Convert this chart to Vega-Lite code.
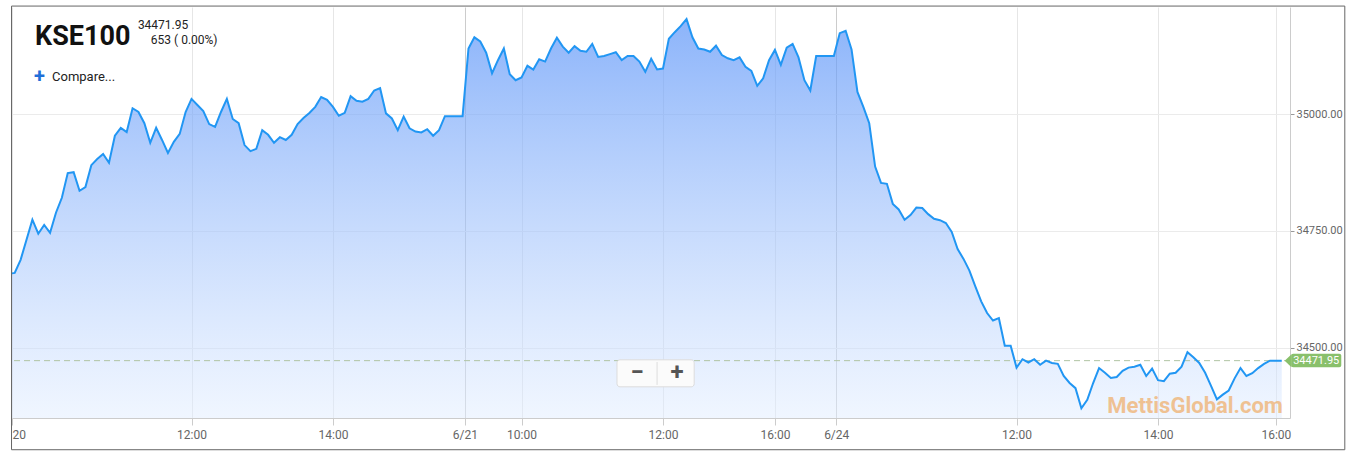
{
  "$schema": "https://vega.github.io/schema/vega-lite/v6.json",
  "width": 1278,
  "height": 411,
  "autosize": "none",
  "padding": {"left": 12, "top": 7, "right": 66, "bottom": 40},
  "background": "white",
  "config": {"view": {"stroke": null}, "font": "Roboto"},
  "datasets": {
    "kse": [
      {"i":-0.46,"v":34659},{"i":0,"v":34660},{"i":1,"v":34688},{"i":3,"v":34774},{"i":4,"v":34744},{"i":5,"v":34763},{"i":6,"v":34746},{"i":7,"v":34789},{"i":8,"v":34821},{"i":9,"v":34874},{"i":10,"v":34876},
      {"i":11,"v":34836},{"i":12,"v":34844},{"i":13,"v":34891},{"i":14,"v":34904},{"i":15,"v":34915},{"i":16,"v":34896},{"i":17,"v":34954},{"i":18,"v":34971},{"i":19,"v":34962},{"i":20,"v":35013},
      {"i":21,"v":35005},{"i":22,"v":34981},{"i":23,"v":34939},{"i":24,"v":34971},{"i":25,"v":34945},{"i":26,"v":34917},{"i":27,"v":34941},{"i":28,"v":34958},{"i":29,"v":35005},{"i":30,"v":35033},
      {"i":31,"v":35020},{"i":32,"v":35007},{"i":33,"v":34979},{"i":34,"v":34973},{"i":35,"v":35005},{"i":36,"v":35033},{"i":37,"v":34990},{"i":38,"v":34981},{"i":39,"v":34934},{"i":40,"v":34921},
      {"i":41,"v":34926},{"i":42,"v":34966},{"i":43,"v":34956},{"i":44,"v":34939},{"i":45,"v":34951},{"i":46,"v":34945},{"i":47,"v":34956},{"i":48,"v":34979},{"i":49,"v":34992},{"i":50,"v":35003},
      {"i":51,"v":35016},{"i":52,"v":35037},{"i":53,"v":35031},{"i":54,"v":35016},{"i":55,"v":34997},{"i":56,"v":35003},{"i":57,"v":35039},{"i":58,"v":35029},{"i":59,"v":35027},{"i":60,"v":35033},
      {"i":61,"v":35051},{"i":62,"v":35056},{"i":63,"v":35002},{"i":64,"v":34991},{"i":65,"v":34966},{"i":66,"v":34995},{"i":67,"v":34970},{"i":68,"v":34963},{"i":69,"v":34961},{"i":70,"v":34968},
      {"i":71,"v":34954},{"i":72,"v":34966},{"i":73,"v":34996},{"i":76,"v":34996},
      {"i":77,"v":35141},{"i":78,"v":35165},{"i":79,"v":35156},{"i":80,"v":35132},{"i":81,"v":35088},{"i":82,"v":35116},{"i":83,"v":35141},{"i":84,"v":35086},{"i":85,"v":35073},{"i":86,"v":35079},
      {"i":87,"v":35104},{"i":88,"v":35096},{"i":89,"v":35118},{"i":90,"v":35113},{"i":91,"v":35141},{"i":92,"v":35164},{"i":93,"v":35145},{"i":94,"v":35132},{"i":95,"v":35146},{"i":96,"v":35136},
      {"i":97,"v":35134},{"i":98,"v":35151},{"i":99,"v":35123},{"i":100,"v":35125},{"i":101,"v":35129},{"i":102,"v":35133},{"i":103,"v":35116},{"i":104,"v":35125},{"i":105,"v":35125},{"i":106,"v":35113},
      {"i":107,"v":35091},{"i":108,"v":35119},{"i":109,"v":35096},{"i":110,"v":35098},{"i":111,"v":35162},{"i":112,"v":35176},{"i":113,"v":35189},{"i":114,"v":35204},{"i":115,"v":35165},{"i":116,"v":35141},
      {"i":117,"v":35139},{"i":118,"v":35134},{"i":119,"v":35147},{"i":120,"v":35127},{"i":121,"v":35120},{"i":122,"v":35116},{"i":123,"v":35122},{"i":124,"v":35102},{"i":125,"v":35093},{"i":126,"v":35061},
      {"i":127,"v":35077},{"i":128,"v":35116},{"i":129,"v":35138},{"i":130,"v":35106},{"i":131,"v":35143},{"i":132,"v":35151},{"i":133,"v":35122},{"i":134,"v":35073},{"i":135,"v":35051},{"i":136,"v":35125},
      {"i":139,"v":35125},
      {"i":140,"v":35174},{"i":141,"v":35179},{"i":142,"v":35139},{"i":143,"v":35048},{"i":144,"v":35016},{"i":145,"v":34981},{"i":146,"v":34888},{"i":147,"v":34853},{"i":148,"v":34851},{"i":149,"v":34808},
      {"i":150,"v":34796},{"i":151,"v":34774},{"i":152,"v":34784},{"i":153,"v":34800},{"i":154,"v":34799},{"i":155,"v":34786},{"i":156,"v":34776},{"i":157,"v":34773},{"i":158,"v":34767},{"i":159,"v":34748},
      {"i":160,"v":34711},{"i":161,"v":34690},{"i":162,"v":34665},{"i":163,"v":34631},{"i":164,"v":34599},{"i":165,"v":34574},{"i":166,"v":34558},{"i":167,"v":34563},{"i":168,"v":34504},{"i":169,"v":34504},
      {"i":170,"v":34457},{"i":171,"v":34475},{"i":172,"v":34468},{"i":173,"v":34475},{"i":174,"v":34463},{"i":175,"v":34472},{"i":176,"v":34467},{"i":177,"v":34465},{"i":178,"v":34439},{"i":179,"v":34424},
      {"i":180,"v":34413},{"i":181,"v":34370},{"i":182,"v":34388},{"i":183,"v":34424},{"i":184,"v":34456},{"i":185,"v":34446},{"i":186,"v":34435},{"i":187,"v":34437},{"i":188,"v":34450},{"i":189,"v":34457},
      {"i":190,"v":34459},{"i":191,"v":34463},{"i":192,"v":34439},{"i":193,"v":34455},{"i":194,"v":34430},{"i":195,"v":34428},{"i":196,"v":34444},{"i":197,"v":34446},{"i":198,"v":34459},{"i":199,"v":34490},
      {"i":200,"v":34479},{"i":201,"v":34467},{"i":202,"v":34446},{"i":203,"v":34418},{"i":204,"v":34389},{"i":205,"v":34399},{"i":206,"v":34408},{"i":207,"v":34434},{"i":208,"v":34456},{"i":209,"v":34439},
      {"i":210,"v":34445},{"i":211,"v":34456},{"i":212,"v":34465},{"i":213,"v":34471.95},{"i":215,"v":34471.95}
    ]
  },
  "layer": [
    {
      "data": {"name": "kse"},
      "mark": {"type": "area", "color": {"gradient": "linear", "x1": 0, "y1": 0, "x2": 0, "y2": 1, "stops": [{"offset": 0, "color": "rgba(91,148,248,0.7)"}, {"offset": 1, "color": "rgba(225,237,255,0.5)"}]}},
      "encoding": {
        "x": {"field": "i", "type": "quantitative", "scale": {"domain": [-0.46, 216.4], "nice": false, "zero": false},
          "axis": {"values": [-0.46, 30, 54, 76.4, 86, 110, 129, 139.4, 170, 194, 214],
            "labelExpr": "datum.value < 0 ? '20' : datum.value == 76.4 ? '6/21' : datum.value == 139.4 ? '6/24' : (datum.value == 30 || datum.value == 110 || datum.value == 170) ? '12:00' : (datum.value == 54 || datum.value == 194) ? '14:00' : datum.value == 86 ? '10:00' : '16:00'",
            "labelAlign": {"condition": {"test": "datum.value < 0", "value": "left"}, "value": "center"},
            "grid": true,
            "gridColor": {"condition": {"test": "datum.value == 76.4 || datum.value == 139.4", "value": "#cccccc"}, "value": "#e6e6e6"},
            "domainColor": "#cccccc", "tickColor": "#cccccc", "tickSize": 7, "labelColor": "#666666", "labelFontSize": 12, "labelFont": "Roboto", "labelPadding": 4, "labelOverlap": false, "labelFlush": false, "title": null}},
        "y": {"field": "v", "type": "quantitative", "scale": {"domain": [34349, 35230], "nice": false, "zero": false},
          "axis": {"orient": "right", "values": [34500, 34750, 35000], "format": ".2f", "grid": true, "gridColor": "#ebebeb", "domainColor": "#cccccc", "tickColor": "#999999", "tickSize": 4, "labelColor": "#666666", "labelFontSize": 11, "labelFont": "Roboto", "labelPadding": 2, "title": null}},
        "y2": {"datum": 34349}
      }
    },
    {
      "data": {"values": [{}]},
      "mark": {"type": "rule", "color": "#b0c4a4", "strokeDash": [6, 4], "strokeWidth": 1},
      "encoding": {"y": {"datum": 34471.95, "type": "quantitative"}}
    },
    {
      "data": {"name": "kse"},
      "mark": {"type": "line", "color": "#2196f3", "strokeWidth": 2},
      "encoding": {
        "x": {"field": "i", "type": "quantitative"},
        "y": {"field": "v", "type": "quantitative"}
      }
    },
    {
      "data": {"values": [{"t": "KSE100"}]},
      "mark": {"type": "text", "align": "left", "baseline": "alphabetic", "font": "Roboto", "fontSize": 27, "fontWeight": "bold", "color": "#111111"},
      "encoding": {"x": {"datum": 3.44, "type": "quantitative"}, "y": {"datum": 35148.5, "type": "quantitative"}, "text": {"field": "t"}}
    },
    {
      "data": {"values": [
        {"t": "34471.95", "x": 20.9, "y": 35182.7, "s": 12},
        {"t": "653 ( 0.00%)", "x": 23.1, "y": 35150.6, "s": 12},
        {"t": "Compare...", "x": 6.33, "y": 35072, "s": 13}
      ]},
      "mark": {"type": "text", "align": "left", "baseline": "alphabetic", "font": "Roboto", "color": "#222222"},
      "encoding": {
        "x": {"field": "x", "type": "quantitative"},
        "y": {"field": "y", "type": "quantitative"},
        "text": {"field": "t"},
        "size": {"field": "s", "type": "quantitative", "scale": null}
      }
    },
    {
      "data": {"values": [{"t": "+"}]},
      "mark": {"type": "text", "align": "center", "baseline": "middle", "font": "Roboto", "fontSize": 20, "fontWeight": "bold", "color": "#1f6fd8"},
      "encoding": {"x": {"datum": 4.2, "type": "quantitative"}, "y": {"datum": 35080, "type": "quantitative"}, "text": {"field": "t"}}
    },
    {
      "data": {"values": [{"t": "MettisGlobal.com"}]},
      "mark": {"type": "text", "align": "right", "baseline": "alphabetic", "font": "Roboto", "fontSize": 22, "fontWeight": "bold", "color": "#f0a04b", "opacity": 0.6},
      "encoding": {"x": {"datum": 215.2, "type": "quantitative"}, "y": {"datum": 34359, "type": "quantitative"}, "text": {"field": "t"}}
    },
    {
      "data": {"values": [{}]},
      "mark": {"type": "rect", "fill": "#fbfbfb", "stroke": "#dcdcdc", "strokeWidth": 1, "cornerRadius": 3},
      "encoding": {"x": {"datum": 102.2, "type": "quantitative"}, "x2": {"datum": 115.3}, "y": {"datum": 34473.7, "type": "quantitative"}, "y2": {"datum": 34415.8}}
    },
    {
      "data": {"values": [{}]},
      "mark": {"type": "rule", "color": "#dddddd", "strokeWidth": 1},
      "encoding": {"x": {"datum": 109.0, "type": "quantitative"}, "y": {"datum": 34469, "type": "quantitative"}, "y2": {"datum": 34420}}
    },
    {
      "data": {"values": [{"t": "−", "x": 105.6}, {"t": "+", "x": 112.4}]},
      "mark": {"type": "text", "align": "center", "baseline": "middle", "font": "Roboto", "fontSize": 24, "fontWeight": "bold", "color": "#555555"},
      "encoding": {"x": {"field": "x", "type": "quantitative"}, "y": {"datum": 34446, "type": "quantitative"}, "text": {"field": "t"}}
    },
    {
      "data": {"values": [{}]},
      "mark": {"type": "rect", "fill": "#89c06b", "cornerRadius": 2},
      "encoding": {"x": {"datum": 216.6, "type": "quantitative"}, "x2": {"datum": 225.1}, "y": {"datum": 34486.5, "type": "quantitative"}, "y2": {"datum": 34457.6}}
    },
    {
      "data": {"values": [{}]},
      "mark": {"type": "point", "shape": "M 0.05 -1 L -1 0 L 0.05 1 Z", "filled": true, "color": "#89c06b", "opacity": 1, "size": 169, "strokeWidth": 0},
      "encoding": {"x": {"datum": 216.6, "type": "quantitative"}, "y": {"datum": 34471.95, "type": "quantitative"}}
    },
    {
      "data": {"values": [{"t": "34471.95"}]},
      "mark": {"type": "text", "align": "center", "baseline": "middle", "font": "Roboto", "fontSize": 11, "color": "white"},
      "encoding": {"x": {"datum": 220.85, "type": "quantitative"}, "y": {"datum": 34471.95, "type": "quantitative"}, "text": {"field": "t"}}
    },
    {
      "data": {"values": [{}]},
      "mark": {"type": "rect", "fill": "transparent", "stroke": "#666666", "strokeWidth": 1},
      "encoding": {"x": {"datum": -0.54, "type": "quantitative"}, "x2": {"datum": 225.7}, "y": {"datum": 35232, "type": "quantitative"}, "y2": {"datum": 34281}}
    }
  ]
}
